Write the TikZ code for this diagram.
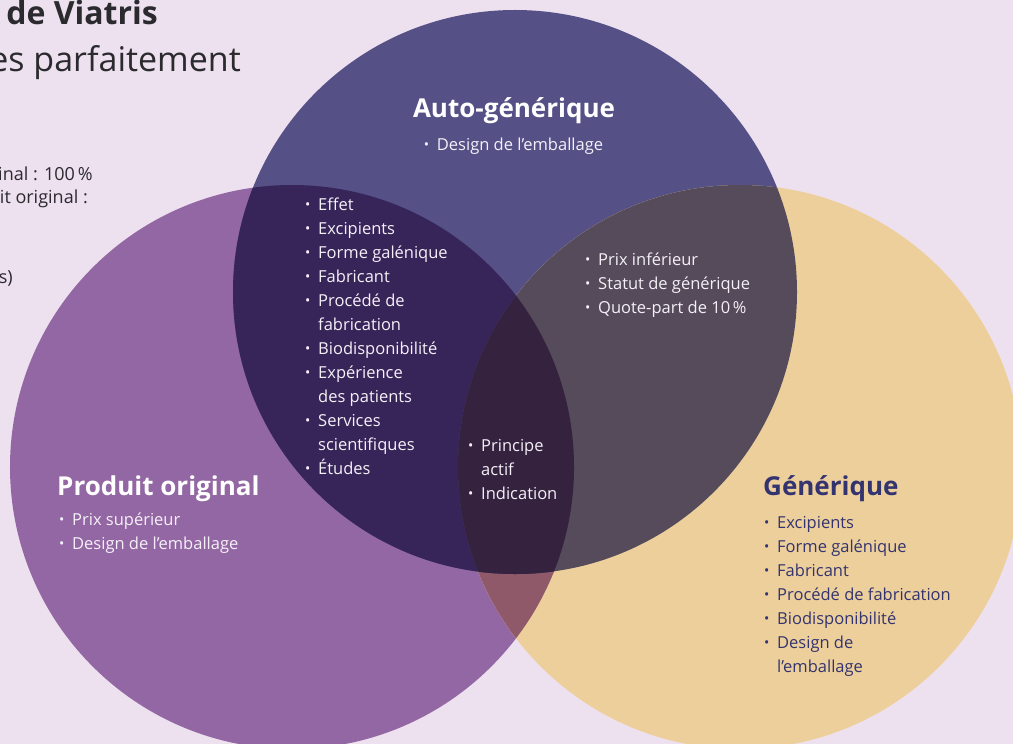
\documentclass[tikz,border=0pt]{standalone}
\usepackage{fontspec}
\usepackage{graphicx}
\setmainfont{Open Sans}
\definecolor{bg}{HTML}{EDE0EF}
\definecolor{cL}{HTML}{9367A3}
\definecolor{cT}{HTML}{555187}
\definecolor{cR}{HTML}{EDCF9C}
\definecolor{cLT}{HTML}{37255A}
\definecolor{cTR}{HTML}{554B5A}
\definecolor{cLR}{HTML}{8F596A}
\definecolor{cC}{HTML}{34223E}
\definecolor{txtw}{HTML}{F5F0F7}
\definecolor{txtd}{HTML}{2B2A2E}
\definecolor{navy}{HTML}{33346F}
\newcommand\bu{\makebox[12bp][l]{\hspace*{-1bp}\raisebox{0.1ex}{\scalebox{0.85}{•}}}}
\newcommand\ind{\hspace*{12bp}}
\tikzset{
  lst/.style={anchor=base west, align=left, inner sep=0pt, font=\fontsize{16.5bp}{24bp}\selectfont},
  ttl/.style={anchor=base west, inner sep=0pt, font=\fontsize{26bp}{30bp}\selectfont\bfseries},
  side/.style={anchor=base east, inner sep=0pt, text=txtd, font=\fontsize{18bp}{22bp}\selectfont}
}
\begin{document}
\begin{tikzpicture}[x=1bp,y=-1bp]
\useasboundingbox (0,0) rectangle (1013,744);
\clip (0,0) rectangle (1013,744);
\fill[bg] (0,0) rectangle (1013,744);
% circles
\coordinate (L) at (292,467);
\coordinate (T) at (515,292);
\coordinate (R) at (740,467);
\fill[cL] (L) circle[radius=282bp];
\fill[cT] (T) circle[radius=282bp];
\fill[cR] (R) circle[radius=282bp];
\begin{scope}
  \clip (L) circle[radius=282bp];
  \fill[cLR] (R) circle[radius=282bp];
  \fill[cLT] (T) circle[radius=282bp];
\end{scope}
\begin{scope}
  \clip (T) circle[radius=282bp];
  \fill[cTR] (R) circle[radius=282bp];
\end{scope}
\begin{scope}
  \clip (L) circle[radius=282bp];
  \clip (T) circle[radius=282bp];
  \fill[cC] (R) circle[radius=282bp];
\end{scope}
% cut-off texts at top left
\node[anchor=base east, inner sep=0pt, text=txtd, font=\fontsize{32bp}{34bp}\selectfont\bfseries] (h1) at (158,25) {de Viatris};
\node[anchor=base east, inner sep=0pt, text=txtd, font=\fontsize{34bp}{40bp}\selectfont] (h2) at (241,72) {es parfaitement};
\node[side] (s1) at (93,180) {inal : 100\,\%};
\node[side] (s2) at (88,203) {it original :};
\node[side] (s3) at (13,283) {s)};
% Auto-generique
\node[ttl, anchor=base, text=white] (tA) at (514,117) {Auto-générique};
\node[lst, anchor=base, text=txtw] (lA) at (514,150) {\bu Design de l’emballage};
% left-top intersection (anchor = baseline of last line)
\node[lst, text=txtw] (lLT) at (306,474.7) {\bu Effet\\\bu Excipients\\\bu Forme galénique\\\bu Fabricant\\\bu Procédé de\\\ind fabrication\\\bu Biodisponibilité\\\bu Expérience\\\ind des patients\\\bu Services\\\ind scientifiques\\\bu Études};
% top-right intersection
\node[lst, text=txtw] (lTR) at (586,313) {\bu Prix inférieur\\\bu Statut de générique\\\bu Quote-part de 10\,\%};
% centre
\node[lst, text=txtw] (lC) at (469,499.5) {\bu Principe\\\ind actif\\\bu Indication};
% Produit original
\node[ttl, text=white] (tP) at (57,495) {Produit original};
\node[lst, text=txtw] (lP) at (60,549) {\bu Prix supérieur\\\bu Design de l’emballage};
% Generique
\node[ttl, text=navy] (tG) at (763,495) {Générique};
\node[lst, text=navy] (lG) at (765,672) {\bu Excipients\\\bu Forme galénique\\\bu Fabricant\\\bu Procédé de fabrication\\\bu Biodisponibilité\\\bu Design de\\\ind l’emballage};
\end{tikzpicture}
\end{document}
